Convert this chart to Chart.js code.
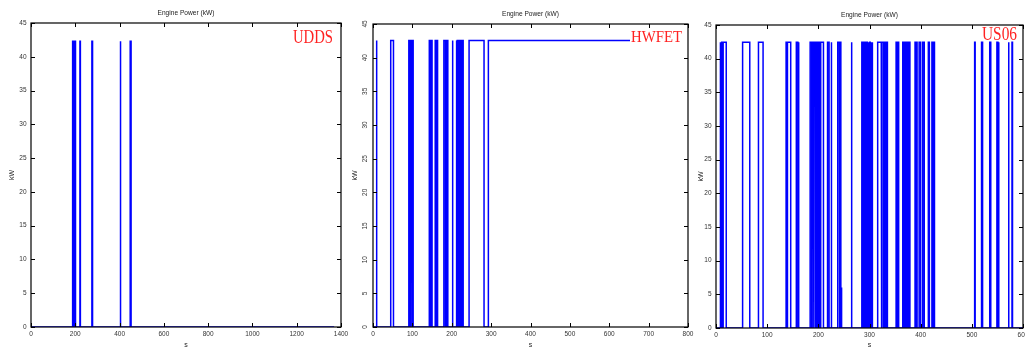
<!DOCTYPE html>
<html><head><meta charset="utf-8">
<script src="https://cdn.jsdelivr.net/npm/chart.js@4.4.1/dist/chart.umd.min.js"></script>
<style>
html,body{margin:0;padding:0;background:#fff;overflow:hidden;width:1025px;height:350px;position:relative;}
canvas{position:absolute;top:0;}
</style></head><body>
<canvas id="c1" width="360" height="350" style="left:0px"></canvas>
<canvas id="c2" width="360" height="350" style="left:345px"></canvas>
<canvas id="c3" width="345" height="350" style="left:690px"></canvas>
<script>
// ---------- data ----------
const yTicks = [0, 5, 10, 15, 20, 25, 30, 35, 40, 45];

// UDDS
const udXTicks = [0, 200, 400, 600, 800, 1000, 1200, 1400];
const udOn  = [188, 195, 221, 275, 403, 448];
const udOff = [194, 201, 223, 278, 405, 452];
const udKW = 42.3;
const udEnd = 1369;

// HWFET
const hwXTicks = [0, 100, 200, 300, 400, 500, 600, 700, 800];
const hwOn  = [8, 45, 91, 95, 99, 143, 147, 158, 161, 180, 187, 201, 211, 214, 217, 222, 226, 244, 293];
const hwOff = [10, 52, 94, 98, 102, 146, 150, 160, 164, 184, 190, 203, 213, 216, 219, 225, 229, 282, 765];
const hwKW = 42.55;
const hwEnd = 765;

// US06
const usXTicks = [0, 100, 200, 300, 400, 500, 600];
const usOn  = [8, 11, 14, 52, 83, 137, 140, 157, 161, 184, 188, 191.5, 195, 199, 202, 205, 218, 225, 238, 242, 264.5, 285, 288, 291, 294, 298, 300.5, 303, 305, 316, 324, 329, 333, 352, 355, 365, 368, 371, 374, 377, 389, 392, 397, 404, 415, 422, 425, 505.5, 519, 535, 549, 552, 571.5, 578.5];
const usOff = [9, 13, 20, 66, 92, 139, 146, 160, 162, 187, 190.5, 194, 197, 201, 204, 210, 221, 226, 241, 244, 265.5, 287, 290, 293, 296, 299, 301.5, 304, 306, 323, 327, 331, 335, 354, 357, 367, 370, 373, 376, 379, 391, 393, 400, 407, 417, 424, 427, 506.5, 521, 537, 551, 553, 572.5, 579.5];
const usKW = 42.45;
const usBlipOn = [245.2];
const usBlipOff = [245.6];
const usBlipKW = [6];
const usEnd = 600;

// ---------- helpers ----------
function buildSteps(on, off, kw, end) {
  const pulses = on.map((t, i) => ({a: t, b: off[i], k: Array.isArray(kw) ? kw[i] : kw}))
                   .sort((p, q) => p.a - q.a);
  const pts = [{x: 0, y: 0}];
  for (const p of pulses) {
    pts.push({x: p.a, y: 0}, {x: p.a, y: p.k}, {x: p.b, y: p.k});
    if (p.b < end) pts.push({x: p.b, y: 0});
  }
  if (pts[pts.length - 1].x < end) pts.push({x: end, y: 0});
  return pts;
}

const FONT = "'Liberation Sans', Arial, sans-serif";

const framePlugin = {
  id: 'frame',
  afterDatasetsDraw(chart, args, o) {
    const {ctx, chartArea: a, scales: {x, y}} = chart;
    ctx.save();
    ctx.strokeStyle = '#000';
    ctx.lineWidth = 1.2;
    ctx.strokeRect(a.left, a.top, a.right - a.left, a.bottom - a.top);
    ctx.beginPath();
    const L = 4;
    x.ticks.forEach(t => {
      const px = Math.round(x.getPixelForValue(t.value)) + 0.5;
      ctx.moveTo(px, a.bottom); ctx.lineTo(px, a.bottom - L);
      ctx.moveTo(px, a.top); ctx.lineTo(px, a.top + L);
    });
    y.ticks.forEach(t => {
      const py = Math.round(y.getPixelForValue(t.value)) + 0.5;
      ctx.moveTo(a.left, py); ctx.lineTo(a.left + L, py);
      ctx.moveTo(a.right, py); ctx.lineTo(a.right - L, py);
    });
    ctx.lineWidth = 1;
    ctx.stroke();
    // title
    ctx.fillStyle = '#222';
    ctx.font = '7px ' + FONT;
    ctx.textAlign = 'center';
    ctx.textBaseline = 'middle';
    ctx.fillText('Engine Power (kW)', (a.left + a.right) / 2, a.top - 10, 57);
    // cycle label
    ctx.font = o.labelSize + "px 'Liberation Serif', 'Times New Roman', serif";
    ctx.textAlign = 'right';
    ctx.textBaseline = 'alphabetic';
    const lx = a.right - o.labelDx, ly = a.top + o.labelDy;
    if (o.labelBg) {
      ctx.fillStyle = '#fff';
      ctx.fillRect(lx - o.labelW - 1, ly - 13, o.labelW + 2, 15);
    }
    ctx.fillStyle = '#ff2222';
    ctx.fillText(o.label, lx, ly, o.labelW);
    ctx.restore();
  }
};

function makeChart(id, p) {
  const canvas = document.getElementById(id);
  const W = canvas.width, H = canvas.height;
  return new Chart(canvas, {
    type: 'scatter',
    data: {datasets: [{
      data: p.points, showLine: true, borderColor: '#0000ff', borderWidth: 1.5,
      pointRadius: 0, pointHoverRadius: 0, tension: 0, fill: false
    }]},
    options: {
      responsive: false, animation: false, devicePixelRatio: 1, events: [],
      layout: {padding: {left: 0, right: W - p.right, top: p.top, bottom: 0}},
      plugins: {
        legend: {display: false}, tooltip: {enabled: false}, title: {display: false},
        frame: {label: p.label, labelSize: p.labelSize, labelW: p.labelW, labelDx: p.labelDx, labelDy: p.labelDy, labelBg: p.labelBg}
      },
      scales: {
        x: {
          type: 'linear', min: 0, max: p.xTicks[p.xTicks.length - 1],
          afterBuildTicks: s => { s.ticks = p.xTicks.map(v => ({value: v})); },
          afterFit: s => { s.height = H - p.bottom; },
          grid: {display: false, drawTicks: false}, border: {display: false},
          ticks: {font: {family: FONT, size: 6.5}, color: '#333', padding: 3, maxRotation: 0, autoSkip: false,
                  callback: v => String(v)},
          title: {display: true, text: 's', font: {family: FONT, size: 7, lineHeight: 1}, color: '#222', padding: {top: 0, bottom: 1.5}}
        },
        y: {
          type: 'linear', min: 0, max: 45,
          afterBuildTicks: s => { s.ticks = yTicks.map(v => ({value: v})); },
          afterFit: s => { s.width = p.left; },
          grid: {display: false, drawTicks: false}, border: {display: false},
          ticks: p.rotY
            ? {font: {family: FONT, size: 6.5}, color: '#333', padding: 4.4, minRotation: 90, maxRotation: 90, crossAlign: 'center', autoSkip: false, callback: v => String(v)}
            : {font: {family: FONT, size: 6.5}, color: '#333', padding: 4.5, autoSkip: false, callback: v => String(v)},
          title: {display: true, text: 'kW', font: {family: FONT, size: 7, lineHeight: 1}, color: '#222', padding: {top: p.yTitlePad, bottom: 0}}
        }
      }
    },
    plugins: [framePlugin]
  });
}

makeChart('c1', {
  points: buildSteps(udOn, udOff, udKW, udEnd), xTicks: udXTicks,
  left: 31, right: 341, top: 23, bottom: 327, yTitlePad: 9, rotY: false,
  label: 'UDDS', labelSize: 18, labelW: 40, labelDx: 8, labelDy: 19.5, labelBg: false
});
makeChart('c2', {
  points: buildSteps(hwOn, hwOff, hwKW, hwEnd), xTicks: hwXTicks,
  left: 28, right: 343, top: 24, bottom: 327, yTitlePad: 6.5, rotY: true,
  label: 'HWFET', labelSize: 17.5, labelW: 51, labelDx: 6, labelDy: 17.7, labelBg: true
});
makeChart('c3', {
  points: buildSteps(usOn.concat(usBlipOn), usOff.concat(usBlipOff), usOn.map(() => usKW).concat(usBlipKW), usEnd), xTicks: usXTicks,
  left: 26, right: 333, top: 25, bottom: 328, yTitlePad: 7.2, rotY: false,
  label: 'US06', labelSize: 19.5, labelW: 35, labelDx: 6, labelDy: 15, labelBg: false
});
</script>
</body></html>
